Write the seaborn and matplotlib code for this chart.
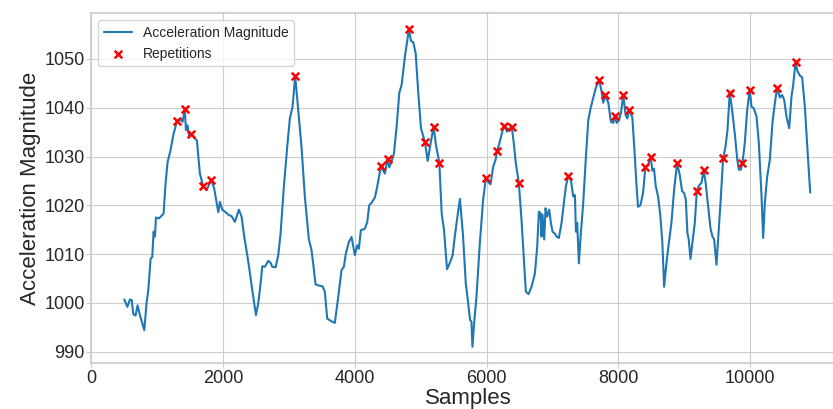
import pandas as pd
import matplotlib
matplotlib.use("Agg")
import matplotlib.pyplot as plt
import seaborn as sns

# acceleration magnitude trace
samples = [498, 545, 584, 610, 635, 670, 700, 736, 802, 837, 863, 898, 923, 943, 964, 979,
           1024, 1095, 1125, 1156, 1201, 1242, 1297, 1343, 1383, 1418, 1434, 1459, 1479, 1515,
           1570, 1601, 1646, 1697, 1747, 1818, 1864, 1899, 1925, 1950, 1985, 2026, 2086, 2127,
           2177, 2238, 2279, 2319, 2365, 2395, 2431, 2471, 2497, 2532, 2568, 2593, 2633, 2684,
           2720, 2745, 2796, 2836, 2871, 2921, 2972, 3012, 3053, 3093, 3139, 3189, 3240, 3300,
           3341, 3366, 3402, 3442, 3508, 3543, 3579, 3634, 3695, 3746, 3796, 3832, 3862, 3908,
           3949, 3999, 4035, 4060, 4090, 4151, 4187, 4217, 4252, 4303, 4338, 4394, 4455, 4496,
           4521, 4557, 4592, 4633, 4673, 4709, 4759, 4820, 4851, 4886, 4922, 4962, 5003, 5064,
           5104, 5150, 5195, 5231, 5282, 5317, 5353, 5398, 5444, 5484, 5516, 5552, 5594, 5640,
           5683, 5719, 5748, 5769, 5784, 5810, 5845, 5896, 5946, 5987, 6023, 6058, 6099, 6134,
           6159, 6200, 6235, 6266, 6311, 6342, 6382, 6412, 6443, 6489, 6529, 6565, 6595, 6636,
           6681, 6732, 6767, 6793, 6818, 6833, 6848, 6874, 6894, 6919, 6950, 6975, 7000, 7035,
           7061, 7096, 7137, 7172, 7203, 7238, 7279, 7314, 7340, 7355, 7375, 7400, 7426, 7466,
           7507, 7543, 7578, 7618, 7659, 7710, 7745, 7771, 7796, 7847, 7887, 7922, 7948, 7973,
           8008, 8039, 8074, 8110, 8135, 8166, 8212, 8247, 8273, 8298, 8334, 8374, 8410, 8450,
           8490, 8516, 8541, 8567, 8603, 8638, 8668, 8694, 8729, 8765, 8805, 8846, 8891, 8932,
           8967, 8998, 9023, 9048, 9068, 9094, 9134, 9160, 9191, 9226, 9261, 9297, 9327, 9363,
           9398, 9428, 9454, 9489, 9514, 9550, 9590, 9626, 9656, 9691, 9727, 9767, 9803, 9828,
           9858, 9884, 9919, 9955, 9995, 10021, 10056, 10097, 10132, 10173, 10198, 10223, 10259,
           10299, 10340, 10375, 10410, 10451, 10486, 10517, 10552, 10593, 10628, 10654, 10689,
           10719, 10755, 10790, 10831, 10871, 10912]
accel = [1000.7, 999.2, 1000.7, 1000.6, 997.7, 997.4, 999.5, 997.5, 994.4, 1000.1, 1002.6,
         1009.1, 1009.4, 1014.6, 1013.6, 1017.5, 1017.3, 1018.3, 1024.5, 1028.9, 1031.3, 1034.4,
         1037.2, 1037.8, 1037.1, 1039.7, 1035.4, 1036.4, 1034.4, 1034.6, 1033.7, 1033.3, 1026.5,
         1023.9, 1023.1, 1025.2, 1023.4, 1020.7, 1018.6, 1020.7, 1019.1, 1018.7, 1018.0, 1017.8,
         1016.6, 1019.1, 1017.7, 1013.6, 1009.8, 1007.1, 1003.6, 999.9, 997.5, 999.9, 1004.0,
         1007.5, 1007.4, 1008.6, 1008.2, 1007.4, 1007.3, 1009.8, 1014.2, 1023.8, 1032.0, 1037.8,
         1040.2, 1046.5, 1039.5, 1032.0, 1021.7, 1013.1, 1010.8, 1008.1, 1003.8, 1003.6, 1003.4,
         1002.3, 996.8, 996.3, 995.9, 1001.2, 1006.7, 1007.4, 1010.1, 1012.5, 1013.5, 1009.8,
         1011.8, 1011.1, 1014.9, 1015.2, 1016.6, 1020.0, 1020.5, 1021.6, 1023.8, 1028.0, 1026.5,
         1029.5, 1027.8, 1029.0, 1030.6, 1036.1, 1043.0, 1044.7, 1050.5, 1056.1, 1053.7, 1053.4,
         1051.2, 1043.0, 1035.8, 1032.9, 1029.1, 1032.8, 1036.1, 1032.3, 1028.7, 1018.3, 1014.9,
         1006.9, 1008.3, 1009.8, 1013.6, 1017.3, 1021.3, 1014.0, 1004.0, 1000.0, 996.5, 996.2,
         991.0, 995.9, 1001.2, 1012.2, 1021.1, 1025.5, 1024.8, 1024.3, 1027.9, 1029.3, 1031.1,
         1033.1, 1035.0, 1036.3, 1035.1, 1035.7, 1036.1, 1032.7, 1028.6, 1024.5, 1017.0, 1008.8,
         1002.3, 1001.8, 1003.3, 1006.0, 1011.5, 1018.7, 1018.4, 1013.6, 1018.1, 1013.0, 1019.4,
         1017.7, 1019.1, 1016.4, 1014.6, 1014.2, 1013.6, 1013.3, 1016.4, 1020.5, 1023.9, 1026.0,
         1025.2, 1021.8, 1022.1, 1014.6, 1016.4, 1008.1, 1013.6, 1020.5, 1030.0, 1037.5, 1039.9,
         1042.0, 1044.2, 1045.6, 1043.3, 1041.0, 1042.6, 1041.0, 1037.1, 1036.9, 1038.3, 1036.9,
         1037.4, 1039.0, 1042.6, 1038.5, 1037.8, 1039.5, 1038.0, 1030.6, 1024.5, 1019.7, 1020.0,
         1022.5, 1027.9, 1028.2, 1029.9, 1027.1, 1027.5, 1023.9, 1021.8, 1017.7, 1012.2, 1003.3,
         1008.1, 1012.2, 1016.4, 1023.2, 1028.6, 1026.2, 1022.9, 1022.5, 1021.2, 1014.3, 1013.0,
         1009.0, 1013.6, 1016.4, 1023.0, 1024.1, 1024.6, 1027.2, 1024.3, 1019.7, 1015.3, 1013.6,
         1013.0, 1007.8, 1013.0, 1020.5, 1029.6, 1032.0, 1035.4, 1043.1, 1039.5, 1034.7, 1029.6,
         1027.3, 1027.3, 1028.7, 1032.8, 1039.5, 1043.7, 1040.2, 1039.9, 1038.2, 1032.8, 1021.9,
         1013.3, 1020.5, 1025.9, 1029.3, 1037.1, 1040.9, 1044.1, 1042.1, 1042.6, 1041.6, 1038.2,
         1035.8, 1042.3, 1044.7, 1049.3, 1047.5, 1046.6, 1046.2, 1040.2, 1031.3, 1022.6]

# detected repetitions
rep_samples = [1297, 1418, 1515, 1697, 1818, 3093, 4394, 4496, 4820, 5064, 5195, 5282,
               5987, 6159, 6266, 6382, 6489, 7238, 7710, 7796, 7948, 8074, 8166, 8410,
               8490, 8891, 9191, 9297, 9590, 9691, 9884, 9995, 10410, 10689]
rep_values = [1037.2, 1039.7, 1034.6, 1023.9, 1025.2, 1046.5, 1028.0, 1029.5, 1056.1, 1032.9,
              1036.1, 1028.7, 1025.5, 1031.1, 1036.3, 1036.1, 1024.5, 1026.0, 1045.6, 1042.6,
              1038.3, 1042.6, 1039.5, 1027.9, 1029.9, 1028.6, 1023.0, 1027.2, 1029.6, 1043.1,
              1028.7, 1043.7, 1044.1, 1049.3]

sig = pd.DataFrame({'Samples': samples, 'Acceleration Magnitude': accel})
reps = pd.DataFrame({'Samples': rep_samples, 'Acceleration Magnitude': rep_values})

sns.set_style("whitegrid")
plt.rcParams['font.family'] = ['Liberation Sans', 'DejaVu Sans']

fig = plt.figure(figsize=(8.33, 4.09), dpi=100)
ax = fig.add_axes([0.1098, 0.1132, 0.904, 0.8543])

sns.lineplot(data=sig, x='Samples', y='Acceleration Magnitude', color='#1f77b4',
             linewidth=1.5, label='Acceleration Magnitude', ax=ax)
sns.scatterplot(data=reps, x='Samples', y='Acceleration Magnitude', marker='x', color='red',
                s=30, linewidth=1.8, label='Repetitions', zorder=3, ax=ax)

ax.set_xlim(left=0)
ax.set_xlabel('Samples', fontsize=16, color='.15', labelpad=1)
ax.set_ylabel('Acceleration Magnitude', fontsize=16, color='.15', labelpad=2)
ax.tick_params(axis='both', labelsize=13, left=True, bottom=True, length=3.5, pad=1.5,
               color='.8')
for s in ax.spines.values():
    s.set_color('.8')
    s.set_linewidth(1.25)

ax.legend(loc='upper left', fontsize=10, frameon=True, edgecolor='.8')

plt.savefig('out.png', dpi=100)
